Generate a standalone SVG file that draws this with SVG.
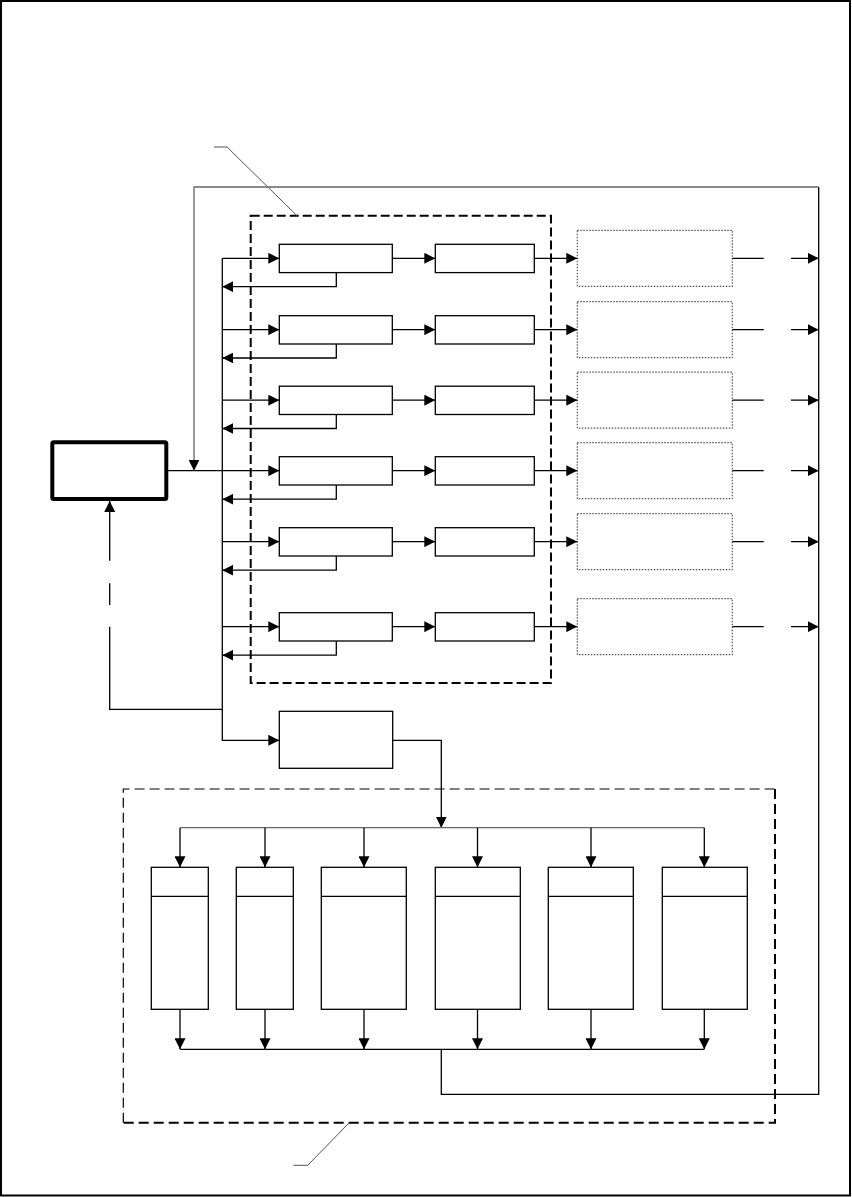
<svg xmlns="http://www.w3.org/2000/svg" width="852" height="1197" viewBox="0 0 852 1197">
<style>
.box{fill:#fff;stroke:#000;stroke-width:1.3}
.dot{fill:#fff;stroke:#555;stroke-width:1.2;stroke-dasharray:1.5 1.5}
.ln{fill:none;stroke:#000;stroke-width:1.3}
.gr{fill:none;stroke:#666;stroke-width:1.3}
.lead{fill:none;stroke:#555;stroke-width:1}
.dashT{fill:none;stroke:#000;stroke-width:2;stroke-dasharray:9 4}
.dashThin{fill:none;stroke:#000;stroke-width:1.2;stroke-dasharray:10 5}
.dashThick{fill:none;stroke:#000;stroke-width:2;stroke-dasharray:10 5}
</style>
<defs>
<marker id="ar" markerUnits="userSpaceOnUse" markerWidth="11" markerHeight="11" viewBox="0 0 10 10" refX="10" refY="5" orient="auto">
<path d="M0 0 L10 5 L0 10 Z" fill="#000"/>
</marker>
</defs>
<rect x="1" y="1" width="849" height="1194.5" fill="#fff" stroke="#000" stroke-width="2"/>

<g id="groups">
<rect id="upper-group" class="dashT" x="250.7" y="215.7" width="300.3" height="467.3"/>
<path id="lower-group-tl" class="dashThin" d="M123.3 1122.7 V789 H775"/>
<path id="lower-group-br" class="dashThick" d="M775 789 V1122.7 H123.3"/>
<path class="lead" d="M214 147 H227 L297 215.7"/>
<path class="lead" d="M293.3 1165.3 H307.7 L349.3 1122.7"/>
</g>

<g id="main"><rect x="52.3" y="442.3" width="114" height="56.7" rx="1.5" fill="#fff" stroke="#000" stroke-width="4"/></g>

<g id="row1"><rect class="box" x="279.3" y="244.3" width="113" height="28.3"/><rect class="box" x="435.3" y="244.3" width="99" height="28.3"/><rect class="dot" x="577.3" y="230.3" width="155" height="56"/></g>
<g id="row2"><rect class="box" x="279.3" y="315.7" width="113" height="28.3"/><rect class="box" x="435.3" y="315.7" width="99" height="28.3"/><rect class="dot" x="577.3" y="301.7" width="155" height="56"/></g>
<g id="row3"><rect class="box" x="279.3" y="386.2" width="113" height="28.3"/><rect class="box" x="435.3" y="386.2" width="99" height="28.3"/><rect class="dot" x="577.3" y="372.2" width="155" height="56"/></g>
<g id="row4"><rect class="box" x="279.3" y="456.7" width="113" height="28.3"/><rect class="box" x="435.3" y="456.7" width="99" height="28.3"/><rect class="dot" x="577.3" y="442.7" width="155" height="56"/></g>
<g id="row5"><rect class="box" x="279.3" y="527.7" width="113" height="28.3"/><rect class="box" x="435.3" y="527.7" width="99" height="28.3"/><rect class="dot" x="577.3" y="513.7" width="155" height="56"/></g>
<g id="row6"><rect class="box" x="279.3" y="612.7" width="113" height="28.3"/><rect class="box" x="435.3" y="612.7" width="99" height="28.3"/><rect class="dot" x="577.3" y="598.7" width="155" height="56"/></g>

<g id="dispatch"><rect class="box" x="279.3" y="711.3" width="113.4" height="57"/></g>

<g id="col1"><rect class="box" x="151.3" y="867.3" width="57" height="142"/><line class="ln" x1="151.3" y1="896.3" x2="208.3" y2="896.3"/></g>
<g id="col2"><rect class="box" x="236.3" y="867.3" width="57" height="142"/><line class="ln" x1="236.3" y1="896.3" x2="293.3" y2="896.3"/></g>
<g id="col3"><rect class="box" x="321.3" y="867.3" width="85" height="142"/><line class="ln" x1="321.3" y1="896.3" x2="406.3" y2="896.3"/></g>
<g id="col4"><rect class="box" x="435.3" y="867.3" width="85" height="142"/><line class="ln" x1="435.3" y1="896.3" x2="520.3" y2="896.3"/></g>
<g id="col5"><rect class="box" x="548.3" y="867.3" width="85" height="142"/><line class="ln" x1="548.3" y1="896.3" x2="633.3" y2="896.3"/></g>
<g id="col6"><rect class="box" x="662.3" y="867.3" width="85" height="142"/><line class="ln" x1="662.3" y1="896.3" x2="747.3" y2="896.3"/></g>

<g id="connectors">
<!-- bus -->
<path class="ln" d="M222.3 258.3 V740.3 H279.3" marker-end="url(#ar)"/>
<path class="ln" d="M166.3 470.7 H279.3" marker-end="url(#ar)"/>
<!-- row connectors -->
<path class="ln" d="M222.3 258.3 H279.3" marker-end="url(#ar)"/>
<path class="ln" d="M222.3 329.7 H279.3" marker-end="url(#ar)"/>
<path class="ln" d="M222.3 400.2 H279.3" marker-end="url(#ar)"/>
<path class="ln" d="M222.3 541.7 H279.3" marker-end="url(#ar)"/>
<path class="ln" d="M222.3 626.7 H279.3" marker-end="url(#ar)"/>

<path class="ln" d="M392.3 258.3 H435.3" marker-end="url(#ar)"/>
<path class="ln" d="M392.3 329.7 H435.3" marker-end="url(#ar)"/>
<path class="ln" d="M392.3 400.2 H435.3" marker-end="url(#ar)"/>
<path class="ln" d="M392.3 470.7 H435.3" marker-end="url(#ar)"/>
<path class="ln" d="M392.3 541.7 H435.3" marker-end="url(#ar)"/>
<path class="ln" d="M392.3 626.7 H435.3" marker-end="url(#ar)"/>

<path class="ln" d="M534.3 258.3 H577.3" marker-end="url(#ar)"/>
<path class="ln" d="M534.3 329.7 H577.3" marker-end="url(#ar)"/>
<path class="ln" d="M534.3 400.2 H577.3" marker-end="url(#ar)"/>
<path class="ln" d="M534.3 470.7 H577.3" marker-end="url(#ar)"/>
<path class="ln" d="M534.3 541.7 H577.3" marker-end="url(#ar)"/>
<path class="ln" d="M534.3 626.7 H577.3" marker-end="url(#ar)"/>

<path class="ln" d="M336.3 272.6 V286.7 H222.3" marker-end="url(#ar)"/>
<path class="ln" d="M336.3 344 V358 H222.3" marker-end="url(#ar)"/>
<path class="ln" d="M336.3 414.5 V428.5 H222.3" marker-end="url(#ar)"/>
<path class="ln" d="M336.3 485 V499.2 H222.3" marker-end="url(#ar)"/>
<path class="ln" d="M336.3 556 V570.2 H222.3" marker-end="url(#ar)"/>
<path class="ln" d="M336.3 641 V655.2 H222.3" marker-end="url(#ar)"/>

<!-- outputs -->
<path class="ln" d="M732.3 258.3 H763.7 M791 258.3 H818.7" marker-end="url(#ar)"/>
<path class="ln" d="M732.3 329.7 H763.7 M791 329.7 H818.7" marker-end="url(#ar)"/>
<path class="ln" d="M732.3 400.2 H763.7 M791 400.2 H818.7" marker-end="url(#ar)"/>
<path class="ln" d="M732.3 470.7 H763.7 M791 470.7 H818.7" marker-end="url(#ar)"/>
<path class="ln" d="M732.3 541.7 H763.7 M791 541.7 H818.7" marker-end="url(#ar)"/>
<path class="ln" d="M732.3 626.7 H763.7 M791 626.7 H818.7" marker-end="url(#ar)"/>

<!-- feedback to main -->
<path class="ln" d="M222.3 709.3 H109.7 V626.7 M109.7 605 V583.3 M109.7 560.7 V501" marker-end="url(#ar)"/>

<!-- dispatch to columns -->
<path class="ln" d="M392.7 740.3 H441.3 V827.7" marker-end="url(#ar)"/>
<path class="gr" d="M180 827.7 H704.3"/>
<path class="ln" d="M180 827.7 V867.3" marker-end="url(#ar)"/>
<path class="ln" d="M265 827.7 V867.3" marker-end="url(#ar)"/>
<path class="ln" d="M364 827.7 V867.3" marker-end="url(#ar)"/>
<path class="ln" d="M477.5 827.7 V867.3" marker-end="url(#ar)"/>
<path class="ln" d="M591 827.7 V867.3" marker-end="url(#ar)"/>
<path class="ln" d="M704.3 827.7 V867.3" marker-end="url(#ar)"/>

<path class="ln" d="M180 1009.3 V1049.3" marker-end="url(#ar)"/>
<path class="ln" d="M265 1009.3 V1049.3" marker-end="url(#ar)"/>
<path class="ln" d="M364 1009.3 V1049.3" marker-end="url(#ar)"/>
<path class="ln" d="M477.5 1009.3 V1049.3" marker-end="url(#ar)"/>
<path class="ln" d="M591 1009.3 V1049.3" marker-end="url(#ar)"/>
<path class="ln" d="M704.3 1009.3 V1049.3" marker-end="url(#ar)"/>
<path class="ln" d="M180 1049.3 H704.3"/>

<!-- loop back -->
<path class="ln" d="M441.3 1049.3 V1094.3 H818.7 V187"/>
<path class="gr" d="M818.7 187 H194 V470.7" marker-end="url(#ar)"/>
</g>
</svg>
